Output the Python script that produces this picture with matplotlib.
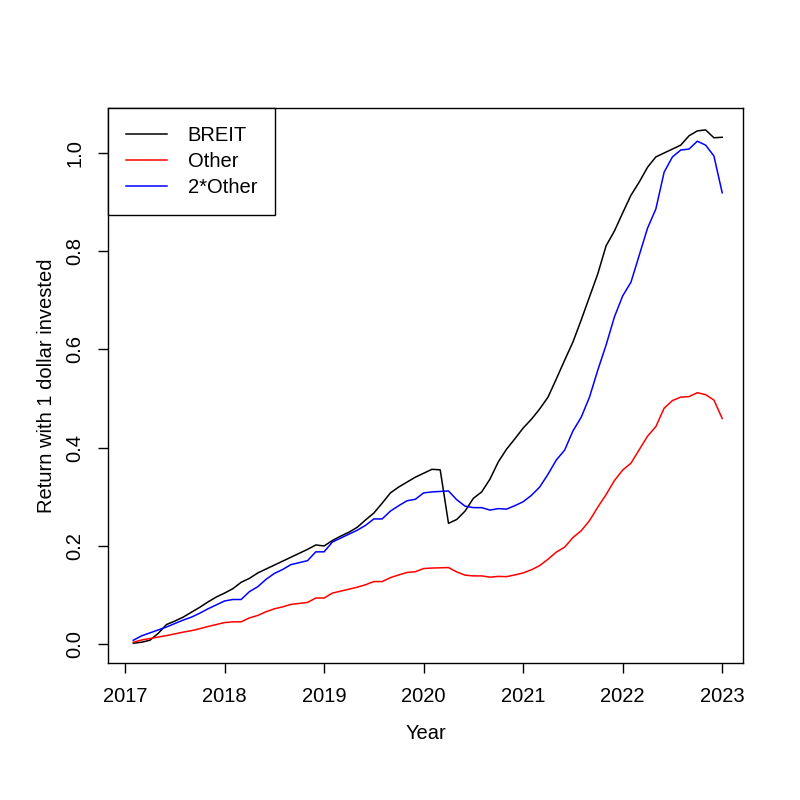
import matplotlib
matplotlib.use("Agg")
import matplotlib.pyplot as plt
import numpy as np

plt.rcParams['font.family'] = ['Liberation Sans', 'DejaVu Sans']

# monthly points, Feb 2017 .. Jan 2023 (time = 2017 + k/12)
months = np.arange(1, 73)
breit = [0.002, 0.004, 0.008, 0.022, 0.040, 0.047, 0.055, 0.065, 0.075, 0.086, 0.096, 0.104,
         0.113, 0.126, 0.134, 0.145, 0.153, 0.161, 0.169, 0.177, 0.185, 0.193, 0.202, 0.200,
         0.211, 0.220, 0.228, 0.238, 0.253, 0.267, 0.287, 0.308, 0.320, 0.330, 0.340, 0.348,
         0.356, 0.355, 0.246, 0.254, 0.271, 0.297, 0.310, 0.336, 0.371, 0.397, 0.418, 0.440,
         0.458, 0.479, 0.503, 0.540, 0.578, 0.615, 0.660, 0.707, 0.754, 0.811, 0.841, 0.878,
         0.914, 0.941, 0.971, 0.992, 1.000, 1.008, 1.016, 1.035, 1.045, 1.047, 1.031, 1.032]
other = [0.0040, 0.0085, 0.0115, 0.0145, 0.0175, 0.0210, 0.0245, 0.0275, 0.0315, 0.0360, 0.0400, 0.0440,
         0.0455, 0.0455, 0.0535, 0.0585, 0.0660, 0.0720, 0.0760, 0.0810, 0.0830, 0.0850, 0.0940, 0.0940,
         0.1040, 0.1080, 0.1120, 0.1160, 0.1210, 0.1275, 0.1275, 0.1355, 0.1410, 0.1460, 0.1475, 0.1540,
         0.1550, 0.1555, 0.1560, 0.1470, 0.1405, 0.1390, 0.1390, 0.1365, 0.1380, 0.1375, 0.1410, 0.1450,
         0.1515, 0.1600, 0.1730, 0.1875, 0.1975, 0.2170, 0.2310, 0.2515, 0.2790, 0.3045, 0.3330, 0.3545,
         0.3685, 0.3960, 0.4235, 0.4430, 0.4805, 0.4960, 0.5030, 0.5040, 0.5120, 0.5080, 0.4970, 0.4595]
other2 = [2 * v for v in other]

year_ticks = [2017, 2018, 2019, 2020, 2021, 2022, 2023]
y_ticks = [0.0, 0.2, 0.4, 0.6, 0.8, 1.0]
y_tick_labels = ["0.0", "0.2", "0.4", "0.6", "0.8", "1.0"]

t = 2017 + months / 12.0

FS = 14.5
fig = plt.figure(figsize=(8, 8), dpi=100)
ax = fig.add_axes([0.135, 0.171, 0.794, 0.694])

ax.plot(t, breit, color='black', lw=1.1, label='BREIT')
ax.plot(t, other, color='red', lw=1.1, label='Other')
ax.plot(t, other2, color='blue', lw=1.1, label='2*Other')

ax.set_xlim(2016.829, 2023.211)
ax.set_ylim(-0.0387, 1.0916)
ax.set_xticks(year_ticks)
ax.set_xticklabels([str(y) for y in year_ticks])
ax.set_yticks(y_ticks)
ax.set_yticklabels(y_tick_labels, rotation=90, va='center')

ax.tick_params(direction='out', length=7, width=1, labelsize=FS, pad=10, color='black')
for s in ax.spines.values():
    s.set_linewidth(1.0)
    s.set_color('black')

ax.set_xlabel('Year', fontsize=FS, labelpad=13)
ax.set_ylabel('Return with 1 dollar invested', fontsize=FS, labelpad=7)

leg = ax.legend(loc='upper left', borderaxespad=0, fancybox=False, edgecolor='black',
                framealpha=1, fontsize=FS, handlelength=2.05, handletextpad=1.0,
                borderpad=0.9, labelspacing=0.35)
leg.get_frame().set_linewidth(1.0)

fig.savefig('out.png', dpi=100)
